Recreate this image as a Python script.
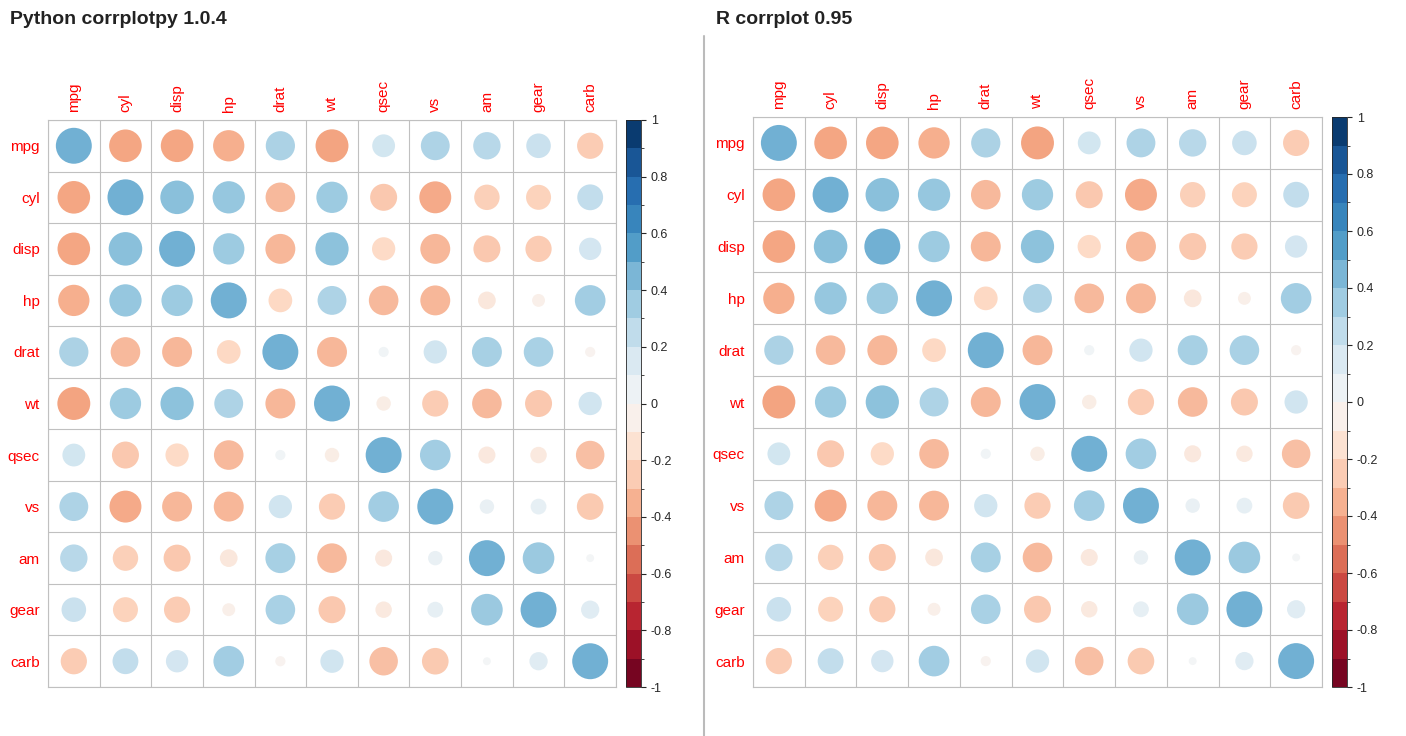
import numpy as np, pandas as pd, seaborn as sns, matplotlib
matplotlib.use("Agg")
import matplotlib.pyplot as plt
from matplotlib.colors import ListedColormap, BoundaryNorm
from matplotlib.cm import ScalarMappable

labels = ["mpg","cyl","disp","hp","drat","wt","qsec","vs","am","gear","carb"]
r_mpg  = [0.62,-0.51,-0.51,-0.47,0.41,-0.52,0.25,0.40,0.36,0.29,-0.33]
r_cyl  = [-0.51,0.62,0.54,0.50,-0.42,0.47,-0.35,-0.49,-0.31,-0.30,0.32]
r_disp = [-0.51,0.54,0.62,0.47,-0.43,0.53,-0.26,-0.43,-0.35,-0.33,0.24]
r_hp   = [-0.47,0.50,0.47,0.62,-0.27,0.40,-0.42,-0.43,-0.15,-0.08,0.45]
r_drat = [0.41,-0.42,-0.43,-0.27,0.62,-0.43,0.05,0.26,0.43,0.42,-0.05]
r_wt   = [-0.52,0.47,0.53,0.40,-0.43,0.62,-0.10,-0.33,-0.42,-0.35,0.26]
r_qsec = [0.25,-0.35,-0.26,-0.42,0.05,-0.10,0.62,0.45,-0.14,-0.13,-0.39]
r_vs   = [0.40,-0.49,-0.43,-0.43,0.26,-0.33,0.45,0.62,0.10,0.12,-0.34]
r_am   = [0.36,-0.31,-0.35,-0.15,0.43,-0.42,-0.14,0.10,0.62,0.48,0.03]
r_gear = [0.29,-0.30,-0.33,-0.08,0.42,-0.35,-0.13,0.12,0.48,0.62,0.16]
r_carb = [-0.33,0.32,0.24,0.45,-0.05,0.26,-0.39,-0.34,0.03,0.16,0.62]
rows = [r_mpg,r_cyl,r_disp,r_hp,r_drat,r_wt,r_qsec,r_vs,r_am,r_gear,r_carb]
titles = ["Python corrplotpy 1.0.4", "R corrplot 0.95"]
cbar_ticks = [1,0.8,0.6,0.4,0.2,0,-0.2,-0.4,-0.6,-0.8,-1]

recs = []
for i, row in enumerate(rows):
    for j, v in enumerate(row):
        recs.append(dict(x=j, y=i, v=v, a=abs(v)))
df = pd.DataFrame(recs)

sns.set_style("white")
plt.rcParams["font.family"] = ["Liberation Sans", "DejaVu Sans"]
fig = plt.figure(figsize=(14.06, 7.36), dpi=100)
W, H = 1406, 736
panels = [((48, 120, 568, 567), (626, 120, 15, 567), 10),
          ((753, 117, 569, 570), (1332, 117, 15, 570), 716)]
n = len(labels)
bounds = np.linspace(-1, 1, 21)
dcmap = ListedColormap(plt.get_cmap("RdBu")(np.linspace(0.02, 0.98, 20)))
for (ax_r, cb_r, tx), title in zip(panels, titles):
    x, y, w, h = ax_r
    ax = fig.add_axes([x/W, 1-(y+h)/H, w/W, h/H])
    sns.scatterplot(data=df, x="x", y="y", hue="v", palette="RdBu", hue_norm=(-1.3, 1.3),
                    size="a", sizes=(0, 1080), size_norm=(0, 1), legend=False,
                    linewidth=0, ax=ax)
    ax.set_xlim(-0.5, n-0.5); ax.set_ylim(n-0.5, -0.5)
    for k in range(n+1):
        ax.axhline(k-0.5, color="#c0c0c0", lw=0.8)
        ax.axvline(k-0.5, color="#c0c0c0", lw=0.8)
    ax.set_xticks(range(n)); ax.set_yticks(range(n))
    ax.set_xticklabels(labels, rotation=90, color="red", fontsize=11)
    ax.set_yticklabels(labels, color="red", fontsize=11)
    ax.xaxis.tick_top()
    ax.tick_params(length=0, pad=6)
    ax.set_xlabel(""); ax.set_ylabel("")
    for s in ax.spines.values():
        s.set_color("#c0c0c0")
    cx, cy, cw, ch = cb_r
    cax = fig.add_axes([cx/W, 1-(cy+ch)/H, cw/W, ch/H])
    cb = fig.colorbar(ScalarMappable(norm=BoundaryNorm(bounds, 20), cmap=dcmap), cax=cax,
                      ticks=cbar_ticks)
    cb.ax.set_yticklabels([("%g" % t) for t in cbar_ticks], fontsize=9)
    cb.outline.set_linewidth(0.6)
    fig.text(tx/W, 1-20/H, title, fontsize=14, fontweight="bold", va="center", color="#222222")

fig.add_artist(plt.Line2D([704/W, 704/W], [0, 1-36/H], color="#bbbbbb", lw=1.5))
fig.savefig("out.png", dpi=100)
